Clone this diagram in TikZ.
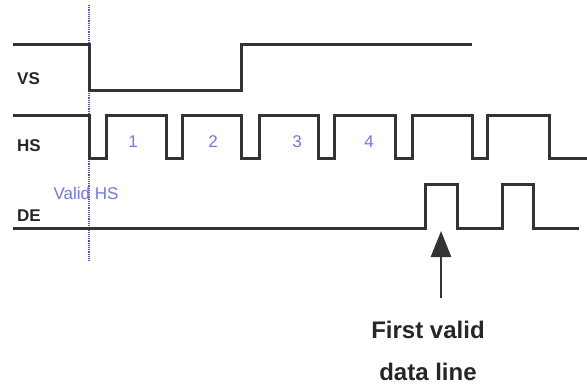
\documentclass[tikz,border=0pt]{standalone}
\usepackage{fontspec}
\setmainfont{Liberation Sans}
\usetikzlibrary{arrows.meta}

\begin{document}
\begin{tikzpicture}%
	[x=1pt,
	y=-1pt,
	signal/.style={color=black!80, line width=3pt},
	marker/.style={color=blue!70!white, densely dotted, line width=1.2pt},
	siglabel/.style={font=\bfseries\fontsize{17}{17}\selectfont, color=black!85, anchor=west, inner sep=0pt},
	count/.style={color=blue!55!white, font=\fontsize{17}{17}\selectfont, inner sep=0pt},
	note/.style={font=\bfseries\fontsize{24}{42}\selectfont, color=black!85, align=center}]
%
\useasboundingbox (0,0) rectangle (587,391);
%%
%% Valid HS marker
%%
\coordinate (marktop) at (89,5);
\coordinate (markbot) at (89,262);
\draw[marker] (marktop) -- (markbot);
\node[count, anchor=center] (validhs) at (86,193) {Valid HS};
%%
%% VS
%%
\draw[signal] (13,44) -- (89,44) -- (89,90) -- (241,90) -- (241,44) -- (472,44);
\node[siglabel] (vs) at (17,79) {VS};
%%
%% HS
%%
\draw[signal] (13,115)
	\foreach \a/\b in {89/106,166/182,241/259,318/334,395/412,472/487} {
		-- (\a,115) -- (\a,158) -- (\b,158) -- (\b,115)}
	-- (549,115) -- (549,158) -- (587,158);
\node[siglabel] (hs) at (17,146) {HS};
\foreach \n/\x in {1/133,2/213,3/297,4/369}
	\node[count] (line\n) at (\x,142) {\n};
%%
%% DE
%%
\draw[signal] (13,228) -- (425,228) -- (425,184) -- (457,184) -- (457,228)
	-- (502,228) -- (502,184) -- (533,184) -- (533,228) -- (579,228);
\node[siglabel] (de) at (17,216) {DE};
%%
%% First valid data line
%%
\node[note] (first) at (428,351) {First valid\\data line};
\coordinate (tip) at (441,231);
\coordinate (tail) at (441,298);
\draw[color=black!80, line width=2.6pt, -{Triangle[width=20pt,length=26pt]}] (tail) -- (tip);
%%
\end{tikzpicture}
\end{document}
